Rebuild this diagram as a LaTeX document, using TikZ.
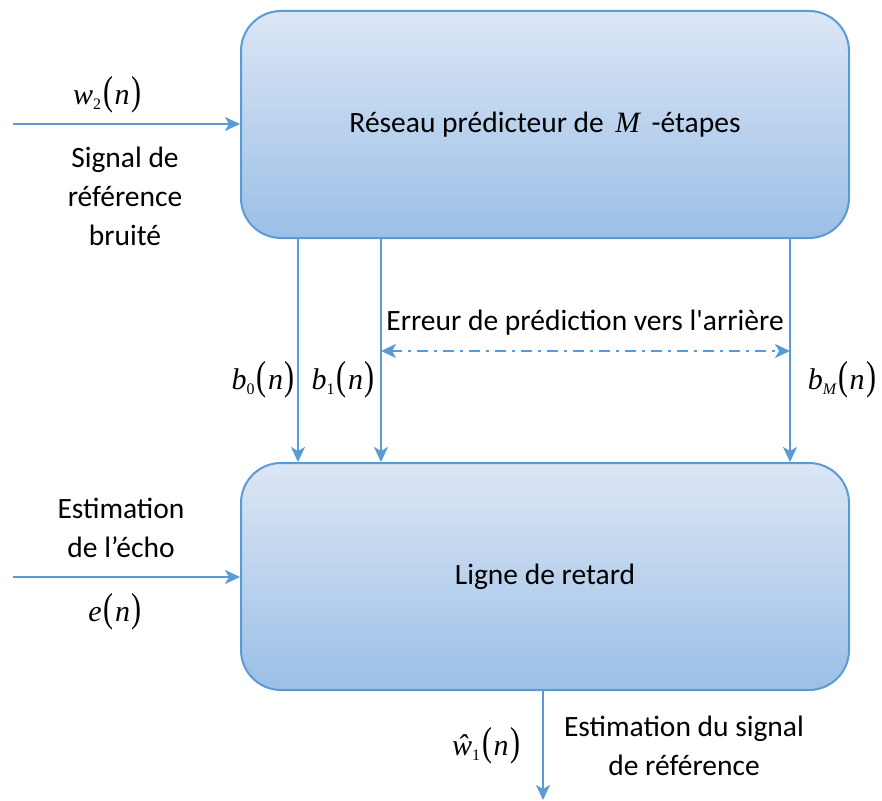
\documentclass[tikz,border=0pt]{standalone}
\usepackage{fontspec}
\setmainfont{Carlito}
\newfontfamily\tms{Liberation Serif}
\usetikzlibrary{arrows.meta}
\definecolor{edge}{RGB}{91,155,213}
\definecolor{filltop}{RGB}{220,230,245}
\definecolor{fillbot}{RGB}{155,191,230}
% tall thin parentheses around n
\newcommand{\argn}{\kern2pt\scalebox{1}[1.35]{\upshape(}\kern1.5pt n\kern1.5pt\scalebox{1}[1.35]{\upshape)}}
% italic variable with lowered subscript, Times-like
\newcommand{\sig}[2]{{\tms\itshape #1\raisebox{-0.35ex}{\fontsize{16}{16}\selectfont\upshape #2}\argn}}
\begin{document}
\begin{tikzpicture}[x=1pt,y=-1pt,
  block/.style={draw=edge,line width=2pt,rounded corners=40pt,
    top color=filltop,bottom color=fillbot,
    minimum width=608pt,minimum height=227pt,inner sep=0pt,
    font=\fontsize{29.5}{34}\selectfont},
  conn/.style={draw=edge,line width=2.2pt,
    -{Stealth[length=15pt,width=14pt,inset=4pt]}},
  lbl/.style={font=\fontsize{29.5}{39}\selectfont,align=center,inner sep=0pt},
  mth/.style={font=\fontsize{30}{32}\selectfont,inner sep=0pt}]
\useasboundingbox (0,0) rectangle (882,800);

\node[block] (pred) at (545,124.5) {R\'eseau pr\'edicteur de \,{\tms\itshape M}\, -\'etapes};
\node[block] (delay) at (545,576.5) {Ligne de retard};

% inputs and output
\coordinate (in1) at (13,124);
\coordinate (in2) at (13,577);
\coordinate (out) at (543,800);
\draw[conn] (in1) -- (in1 -| pred.west);
\draw[conn] (in2) -- (in2 -| delay.west);
\draw[conn] (delay.south -| out) -- (out);

% backward prediction errors
\foreach \name/\x in {b0/298,b1/381,bM/790}{
  \coordinate (\name s) at (\x,238);
  \draw[conn] (\name s |- pred.south) -- (\name s |- delay.north);
}

% span of the prediction errors
\coordinate (e1) at (381,351);
\coordinate (e2) at (790,351);
\draw[draw=edge,line width=2.2pt,dash pattern=on 11pt off 6pt on 3pt off 6pt,
  {Stealth[length=15pt,width=14pt,inset=4pt]}-{Stealth[length=15pt,width=14pt,inset=4pt]}] (e1) -- (e2);

% labels
\node[mth] (lw2) at (107,95) {\sig{w}{2}};
\node[lbl] (lsig) at (125,196) {Signal de\\r\'ef\'erence\\bruit\'e};
\node[lbl] (lerr) at (585,323) {Erreur de pr\'ediction vers l\textquotesingle arri\`ere};
\node[mth] (lb0) at (263,380) {\sig{b}{0}};
\node[mth] (lb1) at (343,380) {\sig{b}{1}};
\node[mth] (lbM) at (842,380) {\sig{b}{\itshape M}};
\node[lbl] (lest) at (121,528) {Estimation\\de l’\'echo};
\node[mth] (le) at (115,612) {{\tms\itshape e\argn}};
\node[mth] (lw1) at (486,746) {\sig{ŵ}{1}};
\node[lbl] (lout) at (684,746) {Estimation du signal\\de r\'ef\'erence};
\end{tikzpicture}
\end{document}
